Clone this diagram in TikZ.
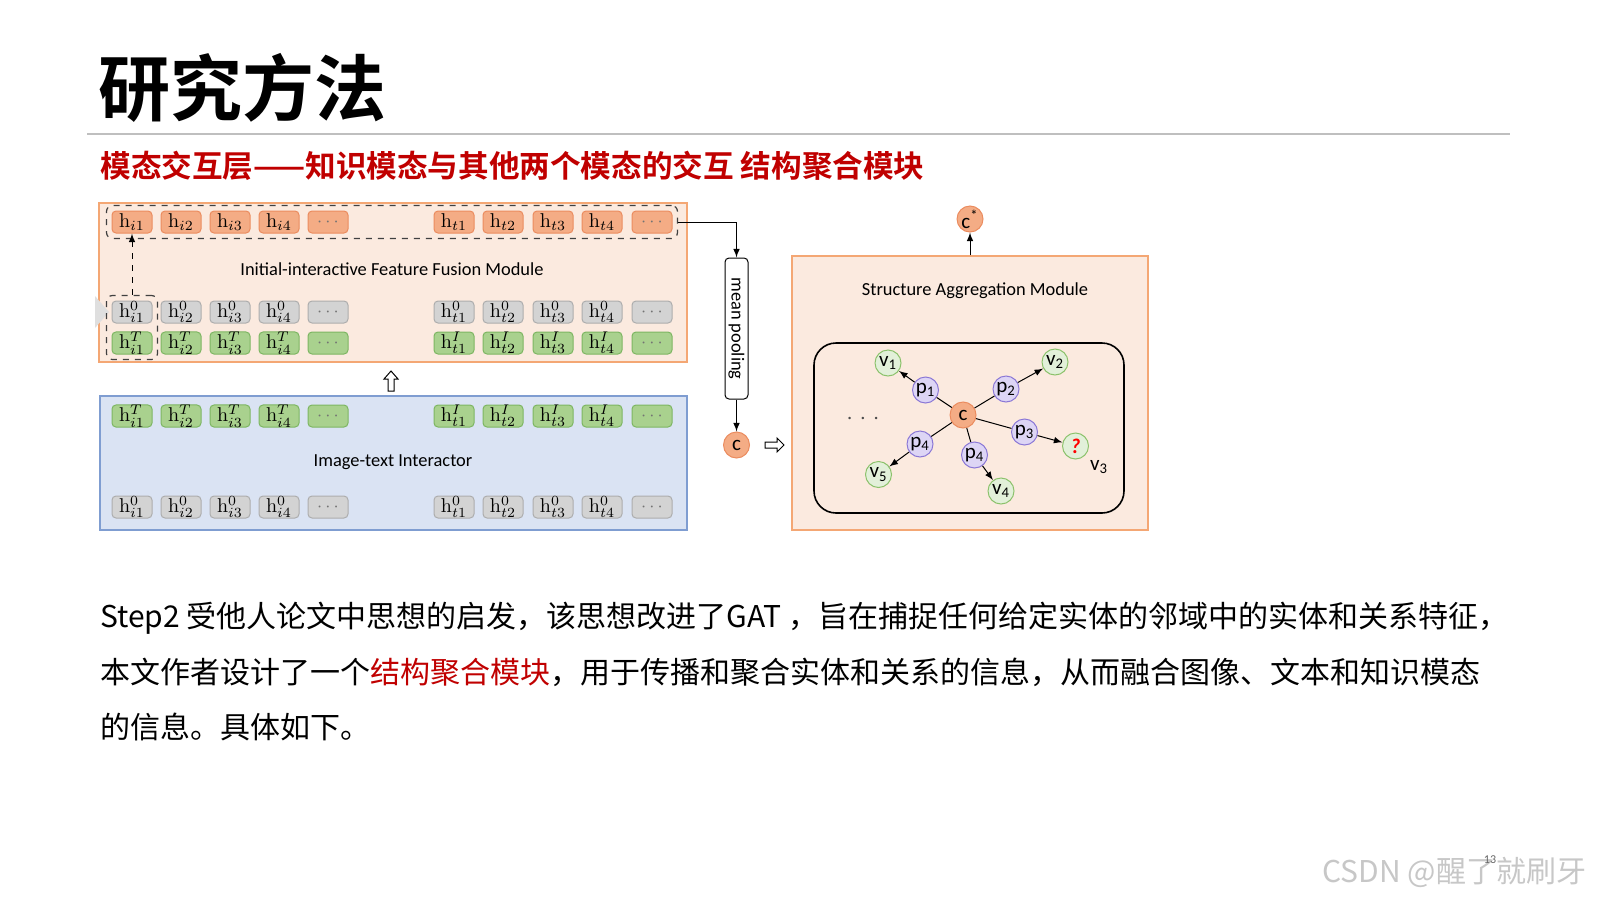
\documentclass[tikz,border=0pt]{standalone}
\usepackage{fontspec}
\newfontfamily\cjk{Noto Sans CJK SC}[BoldFont={Noto Sans CJK SC Bold}]
\newfontfamily\calibri{Carlito}
\usetikzlibrary{shapes,positioning,arrows,fit,calc}

\definecolor{tokorange}{HTML}{F4AC85}
\definecolor{tokorangeline}{HTML}{EB8C5F}
\definecolor{tokgray}{HTML}{D3D3D3}
\definecolor{tokgrayline}{HTML}{ADADAD}
\definecolor{tokgreen}{HTML}{A9D18E}
\definecolor{tokgreenline}{HTML}{7DB662}
\definecolor{peach}{HTML}{FBEADF}
\definecolor{peachline}{HTML}{F4A774}
\definecolor{paleblue}{HTML}{DAE3F3}
\definecolor{paleblueline}{HTML}{7F9DD1}
\definecolor{nodegreen}{HTML}{E2F0D9}
\definecolor{nodegreenline}{HTML}{8CC26C}
\definecolor{nodepurple}{HTML}{DDD5F5}
\definecolor{nodepurpleline}{HTML}{8B78D6}
\definecolor{titlered}{HTML}{C00000}

\newcommand{\tdots}{\textcolor{black!55}{\small$\cdots$}}

\begin{document}
\begin{tikzpicture}[x=0.5pt,y=-0.5pt,>=latex,
	otok/.style={draw=tokorangeline, fill=tokorange, rounded corners=2pt, minimum width=20pt, minimum height=11pt, inner sep=0pt, line width=0.5pt, font=\normalsize},
	gtok/.style={otok, draw=tokgrayline, fill=tokgray},
	ntok/.style={otok, draw=tokgreenline, fill=tokgreen},
	module/.style={draw=peachline, fill=peach, line width=0.6pt},
	lbl/.style={font=\calibri\fontsize{9.2}{11}\selectfont},
	gnode/.style={circle, draw=nodegreenline, fill=nodegreen, minimum size=13pt, inner sep=0pt, line width=0.5pt, font=\calibri\fontsize{10.5}{11}\selectfont},
	pnode/.style={gnode, draw=nodepurpleline, fill=nodepurple},
	cnode/.style={gnode, draw=tokorangeline, fill=tokorange},
	dashbox/.style={draw=black!75, dashed, rounded corners=3pt, inner sep=2.5pt, line width=0.6pt}]
	\useasboundingbox (0,0) rectangle (1600,900);

	% heading
	\node[anchor=west, inner sep=0pt, font=\cjk\bfseries\fontsize{36}{40}\selectfont] (title) at (98,88) {研究方法};
	\draw[line width=1pt, black!25] (87,134) -- (1510,134);
	\node[anchor=west, inner sep=0pt, text=titlered, font=\cjk\bfseries\fontsize{15.3}{18}\selectfont] (subtitle) at (100,166) {模态交互层——知识模态与其他两个模态的交互 结构聚合模块};

	% feature fusion module
	\node[module, minimum width=294pt, minimum height=79.5pt] (fusion) at (393,282.5) {};
	\fill[gray!25] (95,296) -- (109,312) -- (95,328) -- cycle;
	\node[lbl] (fusionlbl) at (392,269) {Initial-interactive Feature Fusion Module};

	\node[otok] (hi1) at (132,222) {$\mathrm{h}_{i1}$};
	\node[otok] (hi2) at (181,222) {$\mathrm{h}_{i2}$};
	\node[otok] (hi3) at (230,222) {$\mathrm{h}_{i3}$};
	\node[otok] (hi4) at (279,222) {$\mathrm{h}_{i4}$};
	\node[otok] (hid) at (328,222) {\tdots};
	\node[otok] (ht1) at (454,222) {$\mathrm{h}_{t1}$};
	\node[otok] (ht2) at (503,222) {$\mathrm{h}_{t2}$};
	\node[otok] (ht3) at (553,222) {$\mathrm{h}_{t3}$};
	\node[otok] (ht4) at (602,222) {$\mathrm{h}_{t4}$};
	\node[otok] (htd) at (652,222) {\tdots};

	\node[gtok] (fz-i1) at (132,312) {$\mathrm{h}_{i1}^{0}$};
	\node[gtok] (fz-i2) at (181,312) {$\mathrm{h}_{i2}^{0}$};
	\node[gtok] (fz-i3) at (230,312) {$\mathrm{h}_{i3}^{0}$};
	\node[gtok] (fz-i4) at (279,312) {$\mathrm{h}_{i4}^{0}$};
	\node[gtok] (fz-id) at (328,312) {\tdots};
	\node[gtok] (fz-t1) at (454,312) {$\mathrm{h}_{t1}^{0}$};
	\node[gtok] (fz-t2) at (503,312) {$\mathrm{h}_{t2}^{0}$};
	\node[gtok] (fz-t3) at (553,312) {$\mathrm{h}_{t3}^{0}$};
	\node[gtok] (fz-t4) at (602,312) {$\mathrm{h}_{t4}^{0}$};
	\node[gtok] (fz-td) at (652,312) {\tdots};

	\node[ntok] (fm-i1) at (132,343) {$\mathrm{h}_{i1}^{T}$};
	\node[ntok] (fm-i2) at (181,343) {$\mathrm{h}_{i2}^{T}$};
	\node[ntok] (fm-i3) at (230,343) {$\mathrm{h}_{i3}^{T}$};
	\node[ntok] (fm-i4) at (279,343) {$\mathrm{h}_{i4}^{T}$};
	\node[ntok] (fm-id) at (328,343) {\tdots};
	\node[ntok] (fm-t1) at (454,343) {$\mathrm{h}_{t1}^{I}$};
	\node[ntok] (fm-t2) at (503,343) {$\mathrm{h}_{t2}^{I}$};
	\node[ntok] (fm-t3) at (553,343) {$\mathrm{h}_{t3}^{I}$};
	\node[ntok] (fm-t4) at (602,343) {$\mathrm{h}_{t4}^{I}$};
	\node[ntok] (fm-td) at (652,343) {\tdots};

	\node[dashbox, fit=(hi1)(htd)] (toprow) {};
	\node[dashbox, fit=(fz-i1)(fm-i1)] (colbox) {};
	\draw[dashed, ->, line width=0.5pt] (colbox.north) -- (hi1.south);

	% image-text interactor
	\draw[line width=0.5pt, fill=white] (391,371) -- (398,379) -- (394,379) -- (394,391) -- (388,391) -- (388,379) -- (384,379) -- cycle;
	\node[module, draw=paleblueline, fill=paleblue, minimum width=293.5pt, minimum height=67pt] (inter) at (393.5,463) {};
	\node[lbl] (interlbl) at (393,462) {Image-text Interactor};

	\node[ntok] (im-i1) at (132,416) {$\mathrm{h}_{i1}^{T}$};
	\node[ntok] (im-i2) at (181,416) {$\mathrm{h}_{i2}^{T}$};
	\node[ntok] (im-i3) at (230,416) {$\mathrm{h}_{i3}^{T}$};
	\node[ntok] (im-i4) at (279,416) {$\mathrm{h}_{i4}^{T}$};
	\node[ntok] (im-id) at (328,416) {\tdots};
	\node[ntok] (im-t1) at (454,416) {$\mathrm{h}_{t1}^{I}$};
	\node[ntok] (im-t2) at (503,416) {$\mathrm{h}_{t2}^{I}$};
	\node[ntok] (im-t3) at (553,416) {$\mathrm{h}_{t3}^{I}$};
	\node[ntok] (im-t4) at (602,416) {$\mathrm{h}_{t4}^{I}$};
	\node[ntok] (im-td) at (652,416) {\tdots};

	\node[gtok] (iz-i1) at (132,507) {$\mathrm{h}_{i1}^{0}$};
	\node[gtok] (iz-i2) at (181,507) {$\mathrm{h}_{i2}^{0}$};
	\node[gtok] (iz-i3) at (230,507) {$\mathrm{h}_{i3}^{0}$};
	\node[gtok] (iz-i4) at (279,507) {$\mathrm{h}_{i4}^{0}$};
	\node[gtok] (iz-id) at (328,507) {\tdots};
	\node[gtok] (iz-t1) at (454,507) {$\mathrm{h}_{t1}^{0}$};
	\node[gtok] (iz-t2) at (503,507) {$\mathrm{h}_{t2}^{0}$};
	\node[gtok] (iz-t3) at (553,507) {$\mathrm{h}_{t3}^{0}$};
	\node[gtok] (iz-t4) at (602,507) {$\mathrm{h}_{t4}^{0}$};
	\node[gtok] (iz-td) at (652,507) {\tdots};

	% mean pooling
	\node[draw, lbl, rounded corners=2pt, fill=white, rotate=-90, minimum width=70.5pt, minimum height=11.5pt, inner sep=0pt, line width=0.5pt] (pool) at (736.5,328.5) {mean pooling};
	\draw[->, line width=0.5pt] (toprow.east) -| (pool.west);
	\node[cnode] (cpool) at (736.5,445) {c};
	\draw[->, line width=0.5pt] (pool.east) -- (cpool.north);
	\draw[line width=0.5pt, fill=white] (765,442) -- (777,442) -- (777,438) -- (784,445) -- (777,452) -- (777,448) -- (765,448) -- cycle;

	% structure aggregation module
	\node[module, minimum width=178pt, minimum height=137pt] (sam) at (970,393) {};
	\node[lbl] (samlbl) at (975,291) {Structure Aggregation Module};
	\node[cnode] (cstar) at (970,219) {c\textsuperscript{*}};
	\draw[->, line width=0.5pt] (sam.north) -- (cstar.south);
	\node[draw, rounded corners=11pt, line width=0.8pt, minimum width=155pt, minimum height=85pt] (frame) at (969,428) {};

	\node[cnode] (c) at (963,415) {c};
	\node[pnode] (p1) at (925.5,390) {p\textsubscript{1}};
	\node[pnode] (p2) at (1006,389) {p\textsubscript{2}};
	\node[pnode] (p3) at (1024.5,432) {p\textsubscript{3}};
	\node[pnode] (p4a) at (920,444) {p\textsubscript{4}};
	\node[pnode] (p4b) at (974.5,455) {p\textsubscript{4}};
	\node[gnode] (v1) at (888,363) {v\textsubscript{1}};
	\node[gnode] (v2) at (1055,362) {v\textsubscript{2}};
	\node[gnode] (v3) at (1075.5,446) {\textcolor{red}{\textbf{\textit{?}}}};
	\node[gnode] (v5) at (878.5,474.5) {v\textsubscript{5}};
	\node[gnode] (v4) at (1001,491) {v\textsubscript{4}};
	\node[font=\calibri\fontsize{10.5}{11}\selectfont] (v3lbl) at (1099,467) {v\textsubscript{3}};
	\node[text=black!70, font=\large] (more) at (863,419) {${\cdot}\;{\cdot}\;{\cdot}$};

	\draw[line width=0.5pt] (c) -- (p1);
	\draw[line width=0.5pt] (c) -- (p2);
	\draw[line width=0.5pt] (c) -- (p3);
	\draw[line width=0.5pt] (c) -- (p4a);
	\draw[line width=0.5pt] (c) -- (p4b);
	\draw[->, line width=0.5pt] (p1) -- (v1);
	\draw[->, line width=0.5pt] (p2) -- (v2);
	\draw[->, line width=0.5pt] (p3) -- (v3);
	\draw[->, line width=0.5pt] (p4a) -- (v5);
	\draw[->, line width=0.5pt] (p4b) -- (v4);

	% body text
	\node[anchor=west, inner sep=0pt, font=\cjk\fontsize{15}{18}\selectfont] (line1) at (100,618) {Step2 受他人论文中思想的启发，该思想改进了GAT ，旨在捕捉任何给定实体的邻域中的实体和关系特征，};
	\node[anchor=west, inner sep=0pt, font=\cjk\fontsize{15}{18}\selectfont] (line2) at (100,672) {本文作者设计了一个\textcolor{titlered}{结构聚合模块}，用于传播和聚合实体和关系的信息，从而融合图像、文本和知识模态};
	\node[anchor=west, inner sep=0pt, font=\cjk\fontsize{15}{18}\selectfont] (line3) at (100,727) {的信息。具体如下。};

	% footer
	\node[anchor=west, inner sep=0pt, text=black!22, font=\cjk\fontsize{15}{18}\selectfont] (mark) at (1322,872) {CSDN @醒了就刷牙};
	\node[font=\calibri\fontsize{6}{7}\selectfont, text=black!60] (pageno) at (1490,860) {13};
\end{tikzpicture}
\end{document}
